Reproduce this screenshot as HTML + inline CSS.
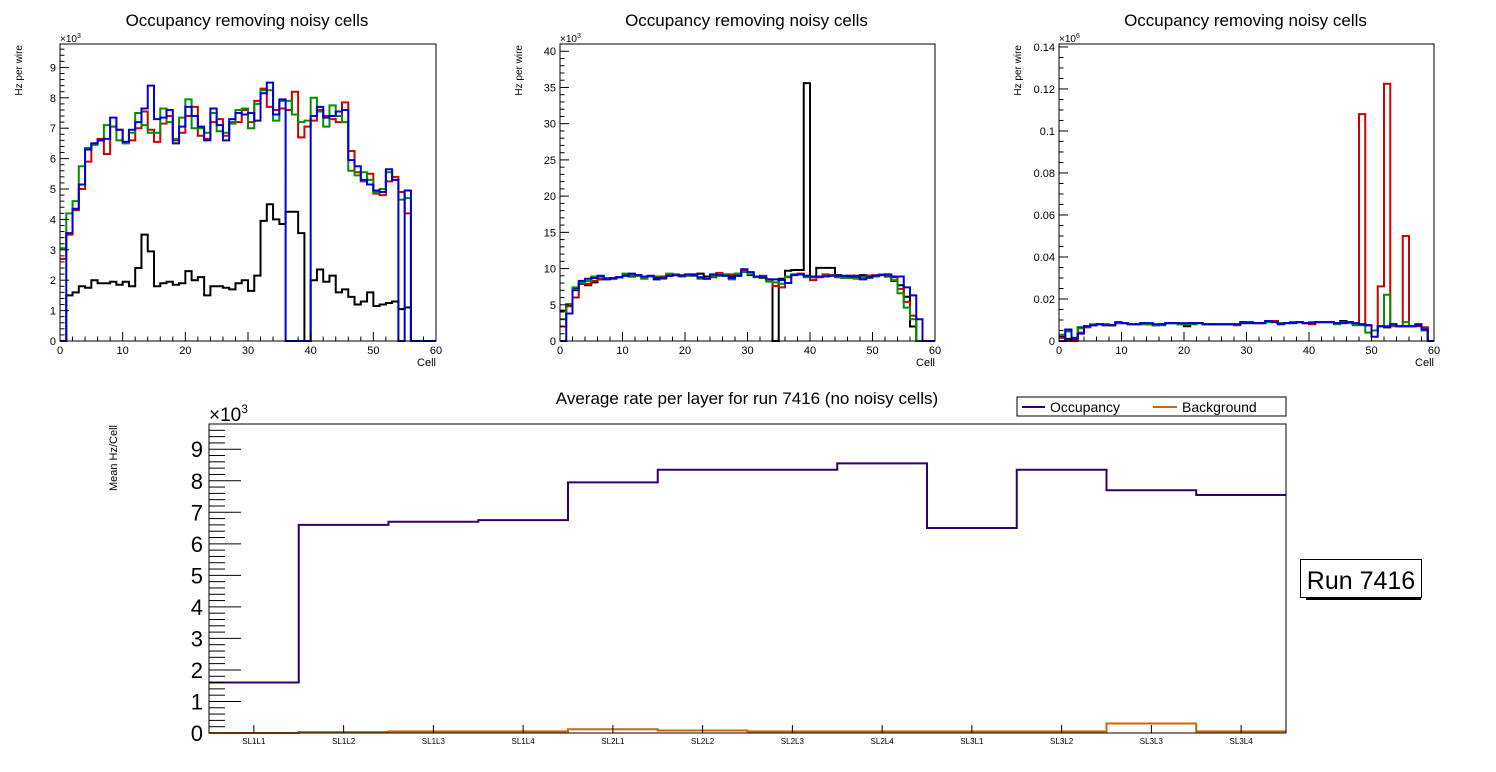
<!DOCTYPE html>
<html><head><meta charset="utf-8"><style>
html,body{margin:0;padding:0;background:#fff;}
svg{display:block;font-family:"Liberation Sans",sans-serif;}
</style></head><body>
<svg id="c" width="1496" height="772" viewBox="0 0 1496 772" xmlns="http://www.w3.org/2000/svg"></svg>
<script>
// ---------- Data ----------
// Chart 1 (units 1e3 Hz), bins 0..59
const c1Black=[0,1.5,1.6,1.8,1.75,2.0,1.9,1.9,1.95,1.85,1.95,1.8,2.4,3.5,2.95,1.8,1.9,1.95,1.85,1.9,2.3,2.0,2.1,1.5,1.8,1.8,1.75,1.7,1.9,2.0,1.65,2.15,3.95,4.5,4.0,3.85,4.25,4.25,3.55,0,2.0,2.35,1.95,2.15,1.6,1.7,1.45,1.2,1.3,1.6,1.15,1.2,1.25,1.3,1.05,1.1,0,0,0,0];
const c1Red=[2.7,3.5,4.3,5.0,5.9,6.5,6.65,6.15,7.05,6.95,6.55,6.6,7.0,7.55,6.95,6.55,7.15,7.4,6.6,6.85,7.4,7.7,6.75,6.65,7.2,7.3,6.75,7.2,7.2,7.6,7.2,7.9,8.3,7.7,7.6,7.65,7.6,8.2,6.7,7.05,7.25,7.6,7.4,7.3,7.2,7.85,6.25,5.55,5.25,5.5,4.85,4.8,5.25,5.4,4.9,4.2,0,0,0,0];
const c1Green=[3.05,4.2,4.6,5.75,6.35,6.45,6.6,7.1,7.05,6.6,6.5,6.85,7.5,7.1,6.85,6.85,7.65,7.2,6.65,7.35,7.95,7.0,7.0,6.85,7.5,6.9,6.85,7.15,7.6,7.65,7.0,7.8,8.25,8.25,7.25,7.9,7.9,7.45,7.2,7.25,8.0,7.55,7.05,7.75,7.4,7.2,5.6,5.45,5.55,5.3,4.9,5.0,5.55,5.3,4.65,4.7,0,0,0,0];
const c1Blue=[0,3.55,4.35,5.15,6.3,6.5,6.6,6.65,7.35,6.95,6.55,6.95,7.2,7.65,8.4,7.3,7.35,7.6,6.5,7.05,7.7,7.4,7.05,6.6,7.65,7.1,6.6,7.3,7.5,7.45,7.5,7.25,8.15,8.5,7.45,7.95,0,0,0,0,7.4,7.7,7.35,7.4,7.55,7.6,5.95,5.75,5.3,5.15,4.95,4.9,5.65,5.3,0,4.95,0,0,0,0];
// Chart 2 (units 1e3 Hz)
const c2Black=[4.2,5.0,7.3,7.9,7.7,8.1,8.5,8.6,8.6,8.8,9.0,8.9,9.0,8.9,8.9,8.5,8.8,9.0,9.1,9.0,9.1,9.2,9.3,8.9,8.9,9.1,9.0,8.9,9.0,9.6,9.1,8.9,8.9,8.5,0,8.6,9.7,9.8,9.8,35.6,8.8,10.1,10.1,10.1,9.1,8.9,9.0,8.8,9.1,9.0,9.0,9.1,8.9,8.3,7.7,6.1,2.0,0,0,0];
const c2Red=[2.0,4.8,6.0,8.0,7.9,8.3,8.6,8.6,8.6,8.8,9.1,9.2,9.1,8.7,8.9,8.9,8.9,9.0,9.2,9.1,9.0,9.0,8.7,8.6,8.8,9.4,9.2,9.2,9.3,9.7,9.2,8.9,9.0,8.5,7.6,7.4,8.8,9.2,9.3,9.0,8.4,8.8,9.2,9.1,8.8,8.8,9.0,8.9,8.8,9.0,9.1,9.1,9.1,8.8,7.2,5.4,3.5,0,0,0];
const c2Green=[3.0,5.1,7.4,8.1,8.3,8.9,8.9,8.7,8.7,8.8,9.3,9.0,9.0,8.6,8.9,8.8,8.6,9.3,9.2,8.9,9.0,9.1,8.6,8.7,9.0,9.0,9.2,8.5,9.3,9.5,9.2,8.8,8.7,8.2,8.1,7.9,8.9,9.2,9.2,8.8,8.8,8.9,9.0,9.0,8.9,8.7,8.7,8.6,8.8,8.7,8.9,9.2,9.0,8.4,6.6,4.6,3.0,0,0,0];
const c2Blue=[0,3.8,7.0,8.3,8.6,8.7,9.0,8.5,8.7,8.8,9.0,9.3,9.1,8.9,9.0,8.7,8.7,9.0,9.1,9.0,9.2,9.1,8.8,8.6,9.2,9.1,9.0,8.7,9.0,9.9,9.5,8.9,8.8,8.5,8.5,8.4,8.0,9.1,9.2,9.0,8.9,8.9,8.9,9.0,9.0,9.0,8.9,9.0,8.5,8.8,9.0,9.1,9.2,8.9,8.9,7.4,6.3,3.0,0,0];
// Chart 3 (units 1e3 Hz)
const c3Black=[2,1,1,6.5,7,7.5,8,8,7.5,8.5,8.5,8,8,8.5,8,7.5,8,8.5,8.5,8,7,8.5,8.5,8,8,8,8,8,8,9,9,8.5,8.5,9.5,9.5,8.5,8.5,9,9,8.5,8.5,9,9,9,8.5,9.5,9,8,8,7.5,5,7,6.5,8,7,7,7,8,6.5,0];
const c3Red=[1.5,0,0,4,6.5,7.5,8,7.5,7.5,8.5,8.5,8,8,8,8,7.5,8,8.5,8.5,8,8,8.5,8.5,8,8,8,8,8,7.5,8.5,9,8.5,8.5,9.5,9.5,8.5,8.5,9,9,8.5,8,9,9,9,8.5,9,9,8,108,7.5,5,26,122.5,7,7,50,7,7,6.5,0];
const c3Green=[3,4.5,1.5,6,7,8,8,8,7.5,8.5,8.5,8,8,8,8,7.5,7.5,8.5,8.5,8,8,8,8.5,8,8,8,8,8,8,8.5,8.5,8.5,8.5,9,9,8.5,8.5,9,9,8.5,9,9,9,9,8,8.5,8.5,7.5,7.5,4,5,7,22,7.5,7,9,7,7.5,5,0];
const c3Blue=[0,5.5,1.5,3.5,7,7.5,8,7.5,7.5,9,8.5,8,8,8.5,8.5,8,8,8.5,8.5,8.5,8.5,8.5,8.5,8,8,8,8,8,8,8.5,8.5,8.5,8.5,9.5,9,8,8.5,8.5,9,8.5,8.5,9,9,9,8.5,8.5,9,8.5,8,7.5,2,7,7,8,7,7,7,7.5,5.5,0];
// Bottom chart
const layers=["SL1L1","SL1L2","SL1L3","SL1L4","SL2L1","SL2L2","SL2L3","SL2L4","SL3L1","SL3L2","SL3L3","SL3L4"];
const occupancy=[1.6,6.6,6.7,6.75,7.95,8.35,8.35,8.55,6.5,8.35,7.7,7.55];
const background=[0.0,0.03,0.05,0.05,0.12,0.08,0.05,0.05,0.05,0.05,0.3,0.05];
const yTicks1=[0,1,2,3,4,5,6,7,8,9];
const yTicks2=[0,5,10,15,20,25,30,35,40];
const yTicks3=["0","0.02","0.04","0.06","0.08","0.1","0.12","0.14"];
const xTicks=[0,10,20,30,40,50,60];

// ---------- Helpers ----------
const NS="http://www.w3.org/2000/svg";
const svg=document.getElementById('c');
function mk(tag,attrs,parent){const e=document.createElementNS(NS,tag);for(const k in attrs)e.setAttribute(k,attrs[k]);(parent||svg).appendChild(e);return e;}
function txt(x,y,s,size,anchor,parent,rot){const t=mk('text',{x:x,y:y,'font-size':size,'text-anchor':anchor||'start',fill:'#000'},parent);if(rot)t.setAttribute('transform','rotate(-90 '+x+' '+y+')');t.textContent=s;return t;}

function histChart(name,L,R,T,B,ymax,majorStep,minorStep,yLabels,expo,series,colors){
  const g=mk('g',{});
  
  
  const xs=v=>L+(R-L)*v/60;
  const ys=v=>B-(B-T)*Math.min(v,ymax)/ymax;
  // series
  series.forEach((s,si)=>{
    let d='M'+xs(0)+','+ys(s[0]);
    for(let i=0;i<s.length;i++){d+=' V'+ys(s[i])+' H'+xs(i+1);}
    const p=mk('path',{d:d,fill:'none',stroke:colors[si],'stroke-width':2},g);
    
    
  });
  // frame
  const f=mk('rect',{x:L,y:T,width:R-L,height:B-T,fill:'none',stroke:'#000','stroke-width':1},g);
  
  
  // x ticks
  for(let v=0;v<=60;v+=2){const maj=v%10===0;mk('line',{x1:xs(v),x2:xs(v),y1:B,y2:B-(maj?9:4.5),stroke:'#000'},g);}
  xTicks.forEach(v=>{const t=txt(xs(v),B+13,String(v),11,'middle',g);});
  const xt=txt(R,B+25,'Cell',11,'end',g);
  
  
  // y ticks
  for(let v=0;v<=ymax+1e-9;v+=minorStep){const maj=Math.abs(v/majorStep-Math.round(v/majorStep))<1e-6;mk('line',{x1:L,x2:L+(maj?9:4.5),y1:ys(v),y2:ys(v),stroke:'#000'},g);}
  yLabels.forEach((lab,i)=>{const t=txt(L-4,ys(i*majorStep)+4,String(lab),11,'end',g);});
  const ex=mk('text',{x:L,y:T-2,'font-size':10,fill:'#000'},g);ex.innerHTML='×10<tspan dy="-4" font-size="7">'+expo+'</tspan>';
  
  
  const yt=txt(L-38,T+1,'Hz per wire',10,'end',g,true);
  
  
  const tt=txt((L+R)/2-1,26,'Occupancy removing noisy cells',17,'middle',g);
  
  
}
const cols=['#000','#d00000','#009000','#0000dd'];
histChart('occupancy-chart-1',60,436,44,341,9.77,1,0.2,yTicks1,3,[c1Black,c1Red,c1Green,c1Blue],cols);
histChart('occupancy-chart-2',560,935,44,341,41.0,5,1,yTicks2,3,[c2Black,c2Red,c2Green,c2Blue],cols);
histChart('occupancy-chart-3',1059,1434,44,341,141.4,20,5,yTicks3,6,[c3Black,c3Red,c3Green,c3Blue],cols);

// ---------- Bottom chart ----------
(function(){
  const L=209,R=1286,T=424,B=733,ymax=9.8;
  const bw=(R-L)/layers.length;
  const xs=i=>L+bw*i;
  const ys=v=>B-(B-T)*v/ymax;
  const g=mk('g',{});
  
  
  function step(arr,color,nm){
    let d='M'+xs(0)+','+ys(arr[0]);
    for(let i=0;i<arr.length;i++)d+=' V'+ys(arr[i])+' H'+xs(i+1);
    const p=mk('path',{d:d,fill:'none',stroke:color,'stroke-width':2},g);
    
    
  }
  step(background,'#cc6600','background-series');
  step(occupancy,'#330066','occupancy-series');
  const f=mk('rect',{x:L,y:T,width:R-L,height:B-T,fill:'none',stroke:'#000','stroke-width':1},g);
  
  
  for(let v=0;v<=ymax+1e-9;v+=0.2){const maj=Math.abs(v-Math.round(v))<1e-6;mk('line',{x1:L,x2:L+(maj?32:16),y1:ys(v),y2:ys(v),stroke:'#000'},g);}
  for(let k=0;k<=9;k++){const t=txt(L-6,ys(k)+8,String(k),22,'end',g);}
  layers.forEach((lab,i)=>{
    mk('line',{x1:xs(i+0.5),x2:xs(i+0.5),y1:B,y2:B-8,stroke:'#000'},g);
    const t=txt(xs(i+0.5),B+11,lab,8,'middle',g);
    
    
  });
  const ex=mk('text',{x:L,y:T-3,'font-size':19,fill:'#000'},g);ex.innerHTML='×10<tspan dy="-8" font-size="12">3</tspan>';
  
  
  const yt=txt(117,425,'Mean Hz/Cell',11,'end',g,true);
  
  
  const tt=txt(747,404,'Average rate per layer for run 7416 (no noisy cells)',17,'middle',g);
  
  
  // legend
  const lg=mk('g',{},g);
  
  
  mk('rect',{x:1017,y:397,width:269,height:19,fill:'#fff',stroke:'#000'},lg);
  mk('line',{x1:1022,x2:1045,y1:407,y2:407,stroke:'#330066','stroke-width':2},lg);
  const l1=txt(1050,412,'Occupancy',14,'start',lg);
  
  
  mk('line',{x1:1153,x2:1177,y1:407,y2:407,stroke:'#cc6600','stroke-width':2},lg);
  const l2=txt(1182,412,'Background',14,'start',lg);
  
  
  // run label
  const rb=mk('g',{});
  
  
  mk('rect',{x:1306,y:560,width:115,height:40,fill:'#000'},rb);
  mk('rect',{x:1300.5,y:559.5,width:121,height:38,fill:'#fff',stroke:'#000'},rb);
  txt(1361,589,'Run 7416',25,'middle',rb);
})();
</script>
</body></html>
